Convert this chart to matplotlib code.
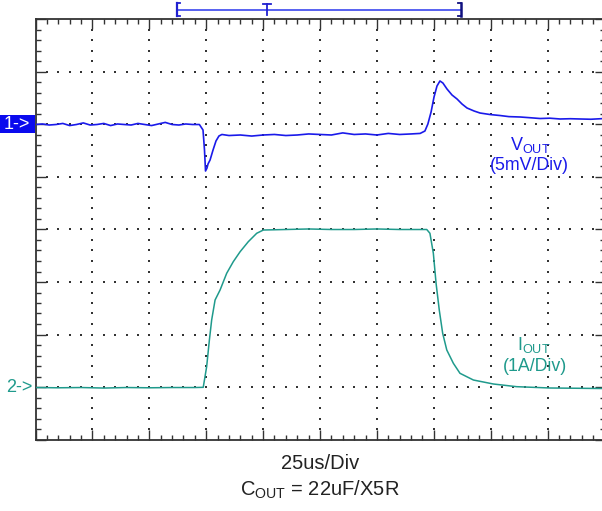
import matplotlib
matplotlib.use("Agg")
import matplotlib.pyplot as plt
from matplotlib.patches import Rectangle
import numpy as np

plt.rcParams['font.family'] = ['Liberation Sans', 'DejaVu Sans']
plt.rcParams['mathtext.fontset'] = 'custom'
plt.rcParams['mathtext.rm'] = 'Liberation Sans'
plt.rcParams['mathtext.it'] = 'Liberation Sans'

# ---- data (time in us, level in divisions from bottom) ----
vout_t = [0, 3, 6, 9, 12, 15, 18, 21, 24, 27, 30, 33, 36, 39, 42, 45, 48, 51, 54, 57,
          60, 63, 66, 69, 72, 73.6, 74.25, 74.7, 75.35, 75.8, 76.7, 78.0, 79.3, 80.6,
          81.9, 85, 90, 95, 100, 105, 110, 115, 120, 125, 130, 135, 140, 145, 150, 155,
          160, 165, 169, 171.1, 172.4, 173.8, 175.1, 176.4, 177.7, 179.0, 180.8, 183.0,
          185.2, 187.4, 189.6, 192.7, 195.3, 199.7, 204.1, 208, 212.9, 217, 221.7, 226,
          230.5, 235, 239.3, 244, 250]
vout_v = [6.0, 6.01, 5.99, 6.0, 6.02, 5.98, 6.0, 6.03, 5.99, 6.0, 6.02, 5.98, 6.01,
          6.0, 5.99, 6.02, 6.0, 5.98, 6.01, 6.04, 6.0, 5.99, 6.01, 6.0, 6.0, 5.895,
          5.514, 5.114, 5.171, 5.248, 5.324, 5.514, 5.686, 5.781, 5.81, 5.79, 5.80,
          5.78, 5.80, 5.81, 5.79, 5.80, 5.82, 5.81, 5.80, 5.84, 5.81, 5.82, 5.80, 5.83,
          5.81, 5.82, 5.83, 5.876, 6.01, 6.238, 6.524, 6.733, 6.829, 6.79, 6.676,
          6.562, 6.486, 6.39, 6.314, 6.257, 6.219, 6.19, 6.171, 6.15, 6.143, 6.13,
          6.114, 6.12, 6.105, 6.11, 6.105, 6.10, 6.114]

iout_t = [0, 10, 20, 30, 40, 50, 60, 70, 73.7, 75.2, 76.4, 77.4, 78.9, 81.1, 84.0,
          86.9, 89.9, 93.5, 97.2, 100.1, 110, 120, 130, 140, 150, 160, 171.9, 173.3,
          174.8, 176.0, 177.4, 178.9, 180.7, 183.6, 186.5, 192.4, 201.2, 211.4, 226.1,
          250]
iout_v = [0.99, 0.985, 0.99, 0.98, 0.99, 0.985, 0.99, 0.99, 0.994, 1.387, 1.895,
          2.276, 2.657, 2.848, 3.166, 3.387, 3.577, 3.768, 3.928, 3.99, 4.0, 4.01,
          4.0, 4.0, 4.01, 4.0, 4.0, 3.928, 3.547, 2.975, 2.467, 2.023, 1.705, 1.451,
          1.261, 1.133, 1.057, 1.006, 0.981, 0.971]

n_xdiv = 10
n_ydiv = 8
us_per_div = 25

blue = '#1a1aea'
teal = '#1f9a8c'
dark = '#333333'

W, H = 602, 511
fig = plt.figure(figsize=(W / 100, H / 100), dpi=100)
left_px, right_px, top_px, bot_px = 35.5, 604.5, 19.5, 439.5
ax = fig.add_axes([left_px / W, 1 - bot_px / H, (right_px - left_px) / W,
                   (bot_px - top_px) / H])
xmax = n_xdiv * us_per_div
ax.set_xlim(0, xmax)
ax.set_ylim(0, n_ydiv)

for s in ax.spines.values():
    s.set_color(dark)
    s.set_linewidth(1.3)

ax.set_xticks(np.arange(0, xmax + 1, us_per_div))
ax.set_xticks(np.arange(0, xmax + 1, us_per_div / 5), minor=True)
ax.set_yticks(np.arange(0, n_ydiv + 1))
ax.set_yticks(np.arange(0, n_ydiv + 0.01, 0.2), minor=True)
ax.tick_params(which='both', direction='in', top=True, right=True,
               labelbottom=False, labelleft=False, color=dark, width=1.0)
ax.tick_params(which='major', length=7)
ax.tick_params(which='minor', length=3.5)

# dotted grid (dots at minor-tick spacing)
gx = np.arange(us_per_div, xmax, us_per_div)
gy = np.arange(1, n_ydiv)
mx = np.arange(0, xmax + 0.01, us_per_div / 5)[1:-1]
my = np.arange(0, n_ydiv + 0.001, 0.2)[1:-1]
px, py = [], []
for x in gx:
    px += [x] * len(my); py += list(my)
for y in gy:
    px += list(mx); py += [y] * len(mx)
ax.scatter(px, py, s=1.4, marker='s', color='#333333', linewidths=0, zorder=1)

ax.plot(vout_t, vout_v, color=blue, lw=1.2, zorder=3)
ax.plot(iout_t, iout_v, color=teal, lw=1.1, zorder=3)

# channel markers
fig.add_artist(Rectangle((0, 1 - 133.5 / H), 35 / W, 18 / H, transform=fig.transFigure,
                         color='#0a0aee', lw=0))
fig.text(17 / W, 1 - 124.5 / H, '1->', color='white', fontsize=13, ha='center',
         va='center')
fig.text(19 / W, 1 - 387.5 / H, '2->', color=teal, fontsize=13, ha='center',
         va='center')

# trigger bracket above plot
def px2t(x):
    return (x - left_px) / (right_px - left_px) * xmax
def py2v(y):
    return (bot_px - y) / ((bot_px - top_px) / n_ydiv)
bl, br, bt = px2t(177), px2t(461), px2t(267)
yb = py2v(9.5)
kw = dict(clip_on=False, color='#4a55f0', lw=1.3)
ax.plot([bl, br], [yb, yb], **kw)
ax.plot([bl, bl], [py2v(3), py2v(16)], color='#2020d0', lw=1.6, clip_on=False)
ax.plot([bl, px2t(180)], [py2v(3), py2v(3)], color='#2020d0', lw=1.3, clip_on=False)
ax.plot([bl, px2t(180)], [py2v(16), py2v(16)], color='#2020d0', lw=1.3, clip_on=False)
ax.plot([bt, bt], [py2v(4), py2v(15)], color='#2020d0', lw=1.3, clip_on=False)
ax.plot([px2t(263), px2t(271)], [py2v(4), py2v(4)], color='#2020d0', lw=1.3, clip_on=False)
ax.plot([br, br], [py2v(3), py2v(16)], color='#101080', lw=1.8, clip_on=False)
ax.plot([px2t(458), br], [py2v(3), py2v(3)], color='#101080', lw=1.3, clip_on=False)
ax.plot([px2t(458), br], [py2v(16), py2v(16)], color='#101080', lw=1.3, clip_on=False)

# labels
ax.text(px2t(530), py2v(145), r'$\mathrm{V_{OUT}}$', color=blue, fontsize=13,
        ha='center', va='center')
ax.text(px2t(529), py2v(165), '(5mV/Div)', color=blue, fontsize=12.8,
        ha='center', va='center')
ax.text(px2t(534), py2v(345), r'$\mathrm{I_{OUT}}$', color=teal, fontsize=13,
        ha='center', va='center')
ax.text(px2t(535), py2v(366), '(1A/Div)', color=teal, fontsize=12.8,
        ha='center', va='center')

fig.text(320 / W, 1 - 463 / H, '25us/Div', color='#222222', fontsize=14.5,
         ha='center', va='center')
fig.text(320 / W, 1 - 490 / H, r'$\mathrm{C_{OUT}}$ = 22uF/X5R', color='#222222',
         fontsize=14.5, ha='center', va='center')

fig.savefig('out.png', dpi=100)
